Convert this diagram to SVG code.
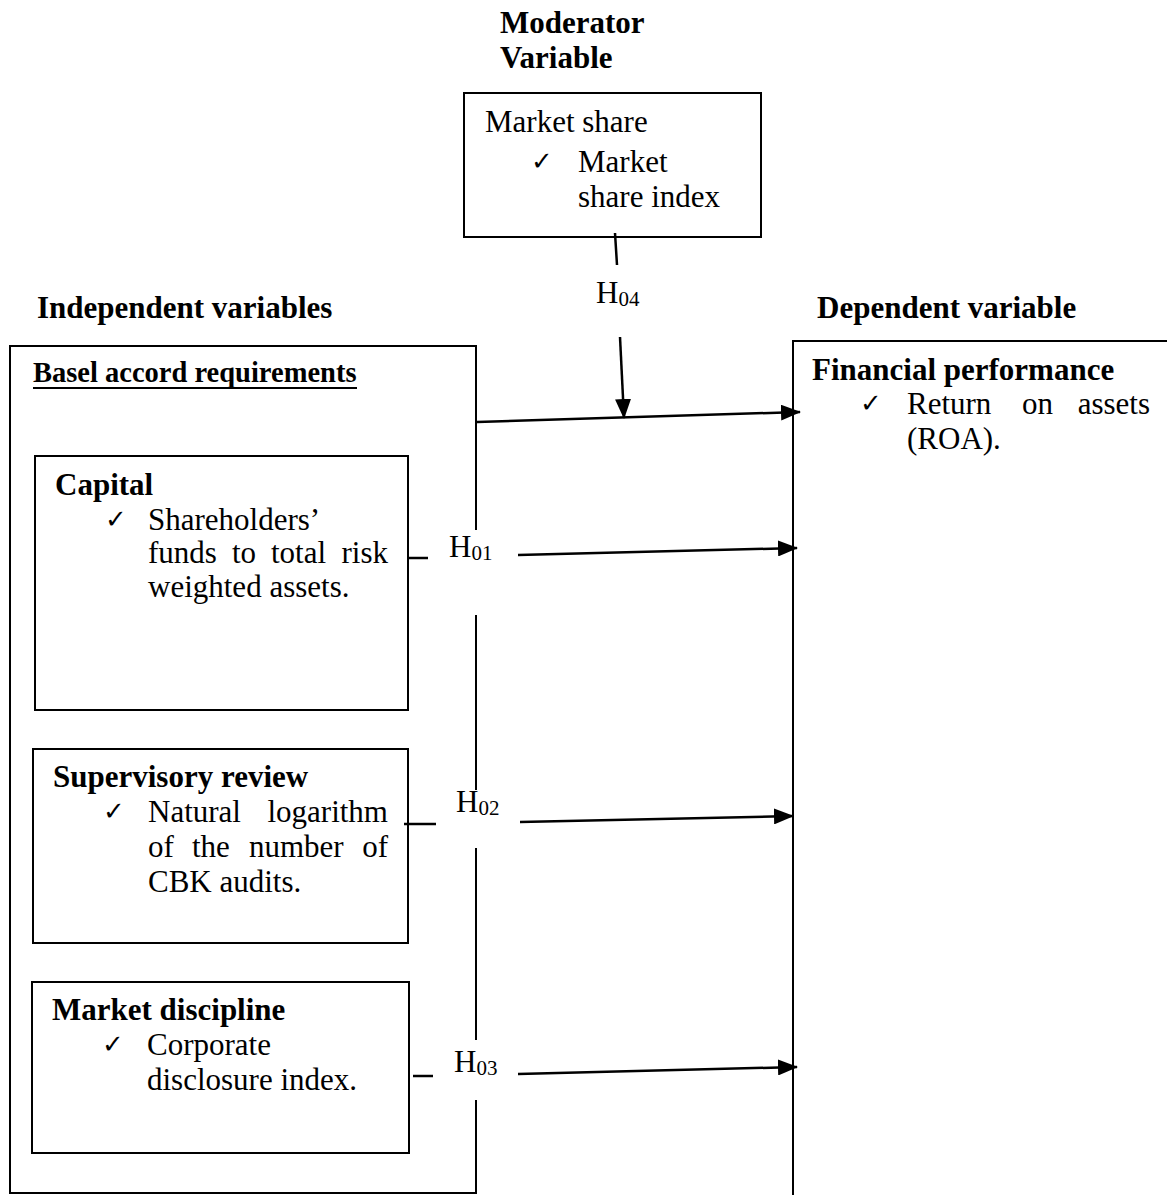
<svg xmlns="http://www.w3.org/2000/svg" width="1167" height="1195" viewBox="0 0 1167 1195">
<style>
text{font-family:"Liberation Serif","Times New Roman",serif;fill:#000;font-size:31px}
.b{font-weight:bold}
.box{fill:none;stroke:#000;stroke-width:2}
.ln{fill:none;stroke:#000;stroke-width:2.5}
.sub{font-size:21px}
.e{text-anchor:end}
.ck{font-size:26px}
</style>
<defs>
<marker id="ah" viewBox="0 0 20 16" refX="19" refY="8" markerWidth="20" markerHeight="16" orient="auto" markerUnits="userSpaceOnUse">
<path d="M0,0 L20,8 L0,16 z" fill="#000"/>
</marker>
</defs>
<rect width="1167" height="1195" fill="#fff"/>
<g id="headings">
<text class="b" x="500" y="33">Moderator</text>
<text class="b" x="500" y="68">Variable</text>
<text class="b" x="37" y="318">Independent variables</text>
<text class="b" x="817" y="318">Dependent variable</text>
</g>
<g id="moderator">
<rect class="box" x="464" y="93" width="297" height="144"/>
<text x="485" y="132">Market share</text>
<text class="ck" x="531" y="170">✓</text>
<text x="578" y="172">Market</text>
<text x="578" y="207">share index</text>
</g>
<g id="basel">
<path class="box" d="M476,530 V346 H10 V1193 H476 V1100 M476,1040 V848 M476,790 V615"/>
<text class="b" x="33" y="382" style="font-size:28.5px">Basel accord requirements</text>
<line x1="33" y1="388" x2="357" y2="388" stroke="#000" stroke-width="2"/>
</g>
<g id="capital">
<rect class="box" x="35" y="456" width="373" height="254"/>
<text class="b" x="55" y="495">Capital</text>
<text class="ck" x="105" y="528">✓</text>
<text x="148" y="530">Shareholders’</text>
<text x="148" y="563">funds</text>
<text x="232" y="563">to</text>
<text x="271" y="563">total</text>
<text class="e" x="388" y="563">risk</text>
<text x="148" y="597">weighted assets.</text>
</g>
<g id="supervisory">
<rect class="box" x="33" y="749" width="375" height="194"/>
<text class="b" x="53" y="787">Supervisory review</text>
<text class="ck" x="103" y="820">✓</text>
<text x="148" y="822">Natural</text>
<text class="e" x="388" y="822">logarithm</text>
<text x="148" y="857">of</text>
<text x="192" y="857">the</text>
<text x="249" y="857">number</text>
<text class="e" x="388" y="857">of</text>
<text x="148" y="892">CBK audits.</text>
</g>
<g id="discipline">
<rect class="box" x="32" y="982" width="377" height="171"/>
<text class="b" x="52" y="1020">Market discipline</text>
<text class="ck" x="102" y="1053">✓</text>
<text x="147" y="1055">Corporate</text>
<text x="147" y="1090">disclosure index.</text>
</g>
<g id="performance">
<path class="box" d="M1168,341 H793 V1196"/>
<text class="b" x="812" y="380">Financial performance</text>
<text class="ck" x="860" y="412">✓</text>
<text x="907" y="414">Return</text>
<text x="1022" y="414">on</text>
<text class="e" x="1150" y="414">assets</text>
<text x="907" y="449">(ROA).</text>
</g>
<g id="labels">
<text x="596" y="303">H<tspan class="sub" dy="3">04</tspan></text>
<text x="449" y="557">H<tspan class="sub" dy="3">01</tspan></text>
<text x="456" y="812">H<tspan class="sub" dy="3">02</tspan></text>
<text x="454" y="1072">H<tspan class="sub" dy="3">03</tspan></text>
</g>
<g id="connectors">
<line class="ln" x1="615" y1="233" x2="617" y2="265"/>
<line class="ln" x1="620" y1="337" x2="624" y2="418" marker-end="url(#ah)"/>
<line class="ln" x1="477" y1="422" x2="800" y2="412" marker-end="url(#ah)"/>
<line class="ln" x1="408" y1="558" x2="428" y2="558"/>
<line class="ln" x1="518" y1="555" x2="797" y2="548" marker-end="url(#ah)"/>
<line class="ln" x1="404" y1="824" x2="436" y2="824"/>
<line class="ln" x1="520" y1="822" x2="793" y2="816" marker-end="url(#ah)"/>
<line class="ln" x1="413" y1="1076" x2="433" y2="1076"/>
<line class="ln" x1="518" y1="1074" x2="797" y2="1067" marker-end="url(#ah)"/>
</g>
</svg>
